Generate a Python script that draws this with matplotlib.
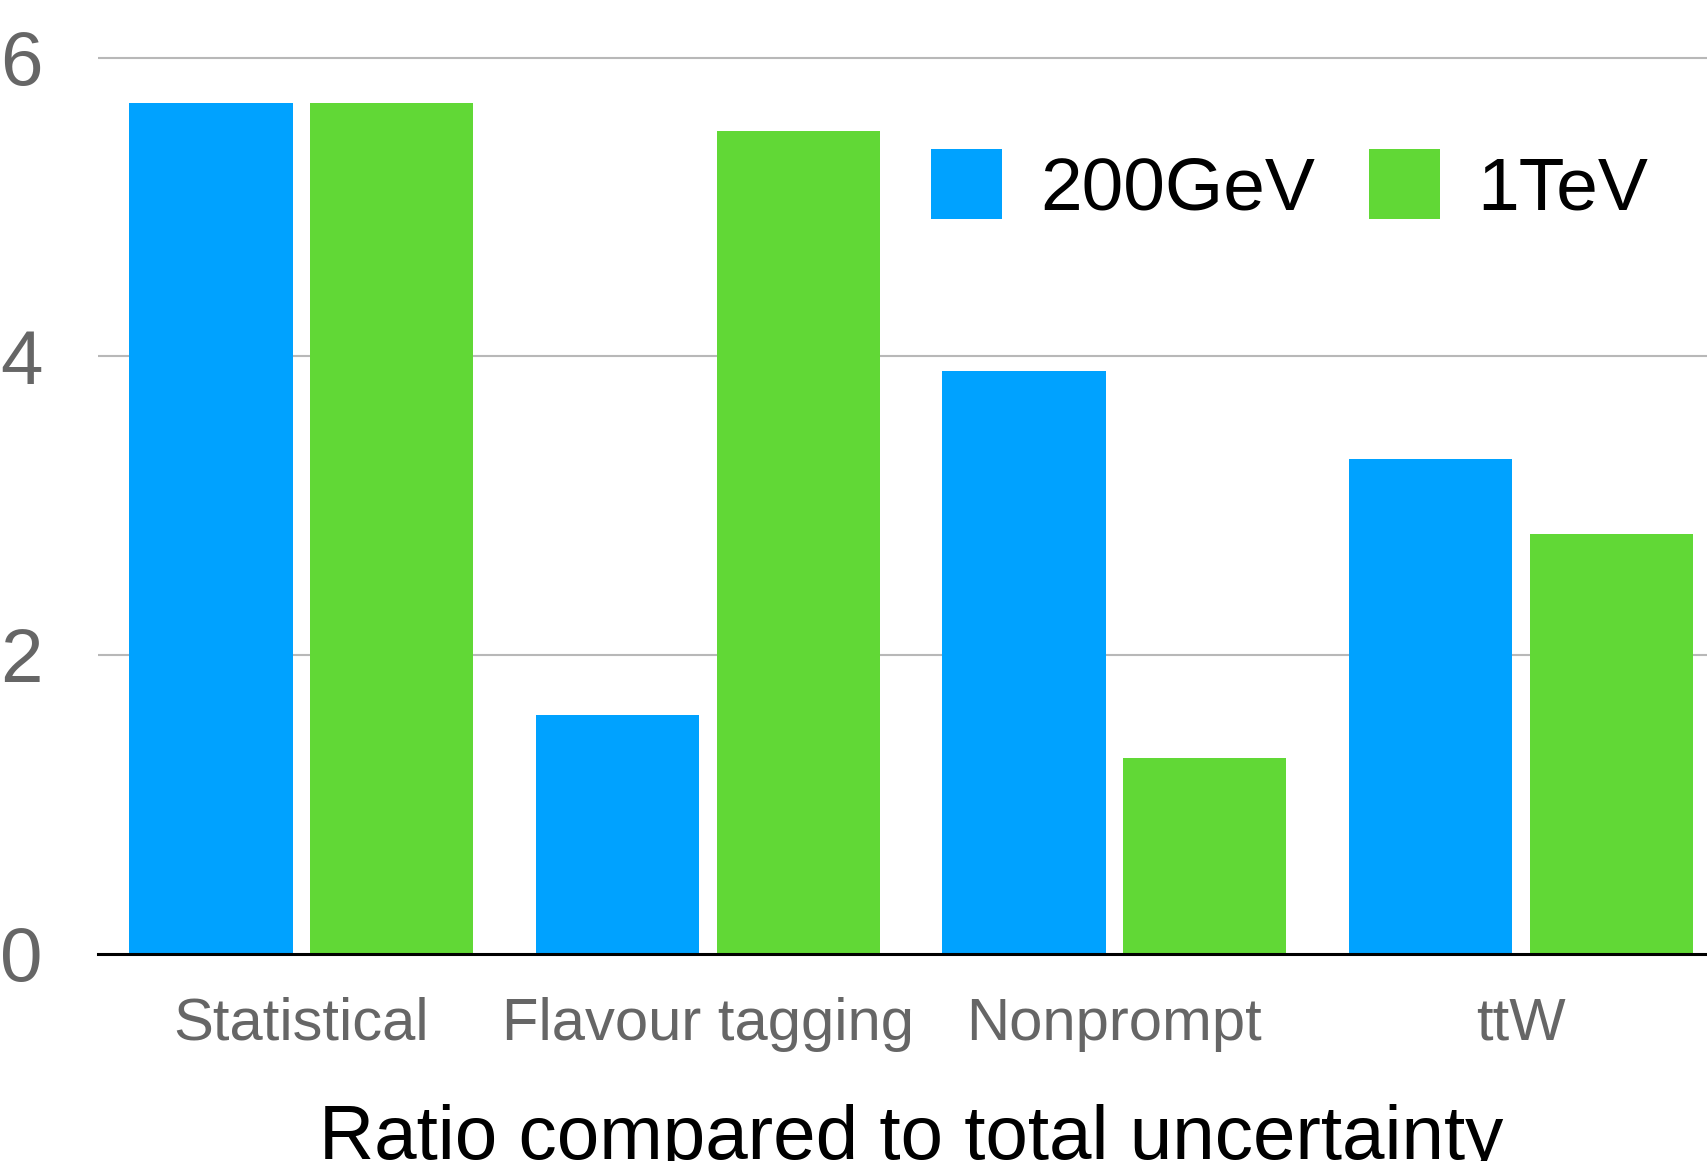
import matplotlib
matplotlib.use("Agg")
import numpy as np
import matplotlib.pyplot as plt

plt.rcParams['font.family'] = ['Liberation Sans', 'DejaVu Sans']

# Data
categories = ['Statistical', 'Flavour tagging', 'Nonprompt', 'ttW']
series_names = ['200GeV', '1TeV']
vals_200gev = [5.70, 1.60, 3.90, 3.31]
vals_1tev = [5.70, 5.51, 1.31, 2.81]
y_ticks = [0, 2, 4, 6]

# Colours
blue = '#00A2FF'
green = '#61D836'
grey_text = '#666666'

# Figure and axis
fig = plt.figure(figsize=(17.07, 11.61), dpi=100)
ymax = 6.2
bottom = 1 - 953.6 / 1161
top = 1 - (953.6 - 149.3 * ymax) / 1161
ax = fig.add_axes([98 / 1707, bottom, 1 - 98 / 1707, top - bottom])

x = np.arange(len(categories))
width = 0.402
offset = 0.2225

ax.bar(x - offset, vals_200gev, width, color=blue, label=series_names[0], zorder=2)
ax.bar(x + offset, vals_1tev, width, color=green, label=series_names[1], zorder=2)

# Limits and grid
ax.set_xlim(-0.5, 3.458)
ax.set_ylim(0, ymax)
ax.set_yticks(y_ticks)
ax.set_yticklabels([str(t) for t in y_ticks])
ax.set_xticks(x)
ax.set_xticklabels(categories)
for t in y_ticks[1:]:
    ax.axhline(t, color='#b8b8b8', linewidth=1.5, zorder=1)

# Spines
for side in ['top', 'right', 'left']:
    ax.spines[side].set_visible(False)
ax.spines['bottom'].set_color('black')
ax.spines['bottom'].set_linewidth(2.2)
ax.spines['bottom'].set_zorder(3)

ax.tick_params(axis='y', length=0, pad=40, labelsize=55, labelcolor=grey_text)
ax.tick_params(axis='x', length=0, pad=31, labelsize=43, labelcolor=grey_text)

# Legend
leg = ax.legend(loc='upper left', bbox_to_anchor=(982 / 1707 - 98 / 1707, 1 - (149 - 27.8) / (953.6 - 27.8)),
                bbox_transform=ax.transAxes, frameon=False, ncol=2, fontsize=54,
                handlelength=0.95, handleheight=1.06, handletextpad=0.5,
                columnspacing=0.72, borderpad=0, borderaxespad=0)

# Title at the bottom
fig.text(911 / 1707, 0.002, 'Ratio compared to total uncertainty', ha='center',
         va='baseline', fontsize=55, color='black')

plt.savefig('out.png', dpi=100)
